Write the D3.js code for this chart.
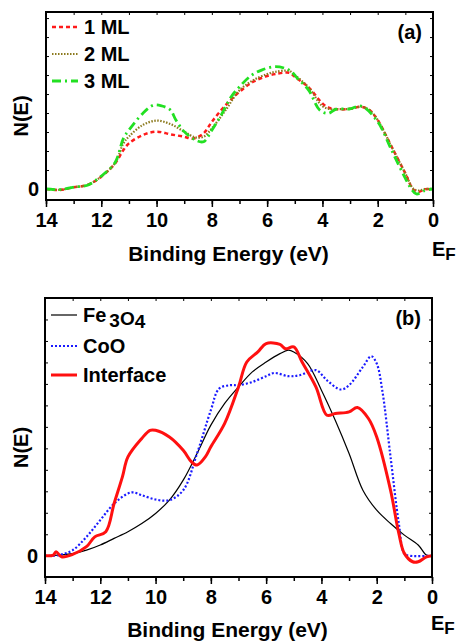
<!DOCTYPE html>
<html><head><meta charset="utf-8">
<script src="https://cdn.jsdelivr.net/npm/d3@7"></script>
<style>
html,body{margin:0;padding:0;background:#fff;}
svg{display:block;}
text{font-family:"Liberation Sans",Arial,sans-serif;font-weight:bold;fill:#000;}
</style></head>
<body>
<svg id="chart" width="459" height="643"></svg>
<script>
// ---------- DATA ----------
const xTicksMajor = [14,12,10,8,6,4,2,0];
const xTicksAll = [14,13,12,11,10,9,8,7,6,5,4,3,2,1,0];
const xLabel = "Binding Energy (eV)";
const yLabel = "N(E)";

// Panel (a)
const seriesA = ["1 ML","2 ML","3 ML"];
const energyA1 = [14,13.5,13,12.5,12,11.5,11.2,11,10.5,10,9.5,9,8.7,8.3,8,7.5,7,6.5,6,5.7,5.2,5,4.5,4,3.8,3.5,3,2.6,2.3,2,1.5,1,0.7,0.5,0.3,0];
const valuesA1 = [0,-0.05,0.09,0.21,0.65,1.35,2.05,2.4,2.84,3.02,2.88,2.75,2.65,2.93,3.54,4.42,5.12,5.65,5.95,6.05,6.12,5.91,5.35,4.51,4.3,4.2,4.22,4.33,4.16,3.63,2.23,0.82,-0.05,-0.14,-0.02,0];
const energyA2 = [14,13.5,13,12.5,12,11.5,11.2,11,10.5,10,9.5,9,8.6,8.3,8,7.5,7,6.5,6,5.7,5.2,5,4.5,4,3.7,3.5,3,2.6,2.3,2,1.5,1,0.7,0.5,0.3,0];
const valuesA2 = [0,-0.04,0.09,0.21,0.66,1.37,2.4,2.76,3.37,3.6,3.42,3.02,2.72,2.75,3.19,4.16,5.2,5.73,6.05,6.17,6.22,6.0,5.35,4.36,4.2,4.2,4.22,4.33,4.16,3.63,2.23,0.82,0.0,-0.08,0,0];
const energyA3 = [14,13.5,13,12.5,12,11.5,11.2,11,10.5,10.1,9.8,9.5,9.3,9,8.6,8.3,8,7.7,7.3,7,6.6,6.2,5.7,5.2,4.9,4.5,4.1,3.8,3.5,3,2.6,2,1.5,1,0.8,0.6,0.3,0];
const valuesA3 = [0,-0.03,0.1,0.2,0.68,1.4,2.66,3.1,3.98,4.42,4.37,4.16,3.63,3.02,2.58,2.49,3.1,3.8,4.86,5.38,5.95,6.26,6.44,6.26,5.82,5.21,4.16,3.98,4.2,4.22,4.37,3.54,2.05,0.56,0.04,-0.26,-0.09,0];

// Panel (b)
const seriesB = ["Fe3O4","CoO","Interface"];
const energyB1 = [14,13,12.5,12,11.5,11,10.5,10,9.5,9,8.5,8,7.5,7,6.5,6,5.5,5.2,5,4.5,4,3.5,3,2.5,2,1.5,1,0.5,0.2,0];
const valuesB1 = [0,0.1,0.26,0.5,0.81,1.12,1.5,1.97,2.59,3.52,4.76,6.08,7.09,7.86,8.56,9.02,9.41,9.57,9.49,8.95,7.71,6.31,4.76,3.05,2.12,1.5,0.96,0.5,0.03,0];
const energyB2 = [14,13.5,13,12.5,12,11.5,11,10.8,10.5,10,9.5,9,8.5,8,7.7,7.3,7,6.5,6,5.7,5.2,4.8,4.2,3.8,3.3,3,2.5,2.2,2,1.8,1.5,1.2,1,0.8,0];
const valuesB2 = [0,0.03,0.26,0.88,1.66,2.43,2.9,2.95,2.82,2.62,2.59,3.05,4.76,6.78,7.78,7.94,7.94,8.09,8.36,8.51,8.36,8.4,8.64,8.17,7.74,7.94,8.79,9.29,8.95,7.71,4.6,1.5,0.1,0,0];
const energyB3 = [14,13.7,13.6,13.4,13,12.5,12.2,11.8,11.5,11.2,11,10.5,10.2,10,9.5,9,8.7,8.5,8.2,8,7.5,7,6.7,6.3,6,5.5,5.3,5,4.7,4.2,3.8,3.5,3,2.7,2.3,2,1.5,1.2,1,0.7,0.5,0.2,0];
const valuesB3 = [0,0.03,0.19,-0.05,0.06,0.42,0.88,1.12,2.43,3.67,4.6,5.46,5.84,5.84,5.53,4.91,4.37,4.22,4.6,5.07,6.16,7.86,9.02,9.49,9.88,9.84,9.64,9.72,9.02,7.86,6.54,6.62,6.7,6.9,6.39,5.53,3.05,1.04,0.11,-0.28,-0.28,-0.05,0];

// ---------- DRAW ----------
const svg = d3.select("#chart");
const FONT = 20;

function zip(es, vs){ return es.map((e,i)=>({e:e, v:vs[i]})); }

function panel(opt){
  const g = svg.append("g");
  const x = d3.scaleLinear().domain([14,0]).range([opt.left, opt.right]);
  const y = d3.scaleLinear().domain(opt.yDomain).range([opt.bottom, opt.top]);
  const yTicks = d3.range(Math.ceil(opt.yDomain[0]), Math.floor(opt.yDomain[1])+1);

  // axes
  g.append("g").attr("transform",`translate(0,${opt.bottom})`)
    .call(d3.axisBottom(x).tickValues(xTicksAll).tickSize(4).tickFormat(""))
    .call(a=>{a.select(".domain").remove(); a.selectAll("line").attr("stroke-width",1.5);});
  g.append("g").attr("transform",`translate(0,${opt.bottom})`)
    .call(d3.axisBottom(x).tickValues(xTicksMajor).tickSize(7).tickPadding(6).tickFormat(d3.format("d")))
    .call(a=>{a.select(".domain").remove(); a.selectAll("line").attr("stroke-width",1.5);
      a.selectAll("text").attr("font-size",FONT).attr("font-family","Liberation Sans, Arial, sans-serif").attr("font-weight","bold").attr("fill","#000");});
  g.append("g").attr("transform",`translate(0,${opt.top})`)
    .call(d3.axisTop(x).tickValues(xTicksAll).tickSize(-3).tickFormat(""))
    .call(a=>{a.select(".domain").remove(); a.selectAll("line").attr("stroke-width",1);});
  g.append("g").attr("transform",`translate(${opt.right},0)`)
    .call(d3.axisRight(y).tickValues(yTicks).tickSize(-3).tickFormat(""))
    .call(a=>{a.select(".domain").remove(); a.selectAll("line").attr("stroke-width",1);});
  g.append("g").attr("transform",`translate(${opt.left},0)`)
    .call(d3.axisLeft(y).tickValues(yTicks).tickSize(-3).tickPadding(7).tickFormat(d=> d===0 ? "0" : ""))
    .call(a=>{a.select(".domain").remove(); a.selectAll("line").attr("stroke-width",1);
      a.selectAll("text").attr("font-size",FONT).attr("font-family","Liberation Sans, Arial, sans-serif").attr("font-weight","bold").attr("fill","#000");});

  // curves
  const line = d3.line().x(d=>x(d.e)).y(d=>y(d.v)).curve(d3.curveCatmullRom.alpha(0.5));
  const clipId = "clip"+opt.id;
  svg.append("clipPath").attr("id",clipId).append("rect")
    .attr("x",opt.left).attr("y",opt.top).attr("width",opt.right-opt.left).attr("height",opt.bottom-opt.top);
  const cg = g.append("g").attr("clip-path",`url(#${clipId})`);
  opt.curves.forEach(c=>{
    cg.append("path").datum(zip(c.e,c.v)).attr("d",line)
      .attr("fill","none").attr("stroke",c.color).attr("stroke-width",c.width)
      .attr("stroke-dasharray",c.dash||null).attr("stroke-linecap",c.cap||"butt");
  });

  // frame
  g.append("rect").attr("x",opt.left).attr("y",opt.top)
    .attr("width",opt.right-opt.left).attr("height",opt.bottom-opt.top)
    .attr("fill","none").attr("stroke","#000").attr("stroke-width",2);

  // labels
  g.append("text").attr("x",(opt.left+opt.right)/2-11).attr("y",opt.titleY)
    .attr("text-anchor","middle").attr("font-size",21).text(xLabel);
  g.append("text").attr("transform",`translate(${opt.ylabX},${(opt.top+opt.bottom)/2+10}) rotate(-90)`)
    .attr("text-anchor","middle").attr("font-size",FONT).text(yLabel);
  const ef = g.append("text").attr("x",opt.right-1).attr("y",opt.efY).attr("font-size",FONT);
  ef.append("tspan").text("E");
  ef.append("tspan").attr("dy",4).attr("font-size",17).text("F");
  g.append("text").attr("x",opt.right-11).attr("y",opt.top+27).attr("text-anchor","end")
    .attr("font-size",FONT).text(opt.tag);

  // legend
  opt.curves.forEach((c,i)=>{
    const ly = opt.legY[i];
    g.append("line").attr("x1",opt.left+6).attr("x2",opt.left+32).attr("y1",ly).attr("y2",ly)
      .attr("stroke",c.color).attr("stroke-width",c.width).attr("stroke-dasharray",c.dash||null)
      .attr("stroke-linecap",c.cap||"butt");
    const t = g.append("text").attr("x",opt.left+38).attr("y",ly+7).attr("font-size",FONT);
    if(c.name==="Fe3O4"){
      t.append("tspan").text("Fe");
      t.append("tspan").attr("dx",3).attr("dy",5).attr("font-size",19).text("3");
      t.append("tspan").attr("dy",-2).attr("font-size",19).text("O");
      t.append("tspan").attr("dy",3).attr("font-size",19).text("4");
    } else t.text(c.name);
  });
}

panel({id:"a", left:46, right:433, top:12, bottom:200, yDomain:[-0.58,9.32],
  titleY:261, efY:256, ylabX:28, tag:"(a)", legY:[27,54,81],
  curves:[
    {name:seriesA[0], e:energyA1, v:valuesA1, color:"#ff1a1a", width:2.5, dash:"4,3"},
    {name:seriesA[1], e:energyA2, v:valuesA2, color:"#8c7a1e", width:2.2, dash:"1.5,1.5"},
    {name:seriesA[2], e:energyA3, v:valuesA3, color:"#22e022", width:2.8, dash:"9,4,2,4"}
  ]});

panel({id:"b", left:45, right:432, top:298, bottom:577, yDomain:[-0.99,12],
  titleY:637, efY:630, ylabX:28, tag:"(b)", legY:[315,346,375],
  curves:[
    {name:seriesB[0], e:energyB1, v:valuesB1, color:"#000000", width:1.2},
    {name:seriesB[1], e:energyB2, v:valuesB2, color:"#1a1aff", width:2.2, dash:"2,2"},
    {name:seriesB[2], e:energyB3, v:valuesB3, color:"#ff1010", width:3}
  ]});
</script>
</body></html>
